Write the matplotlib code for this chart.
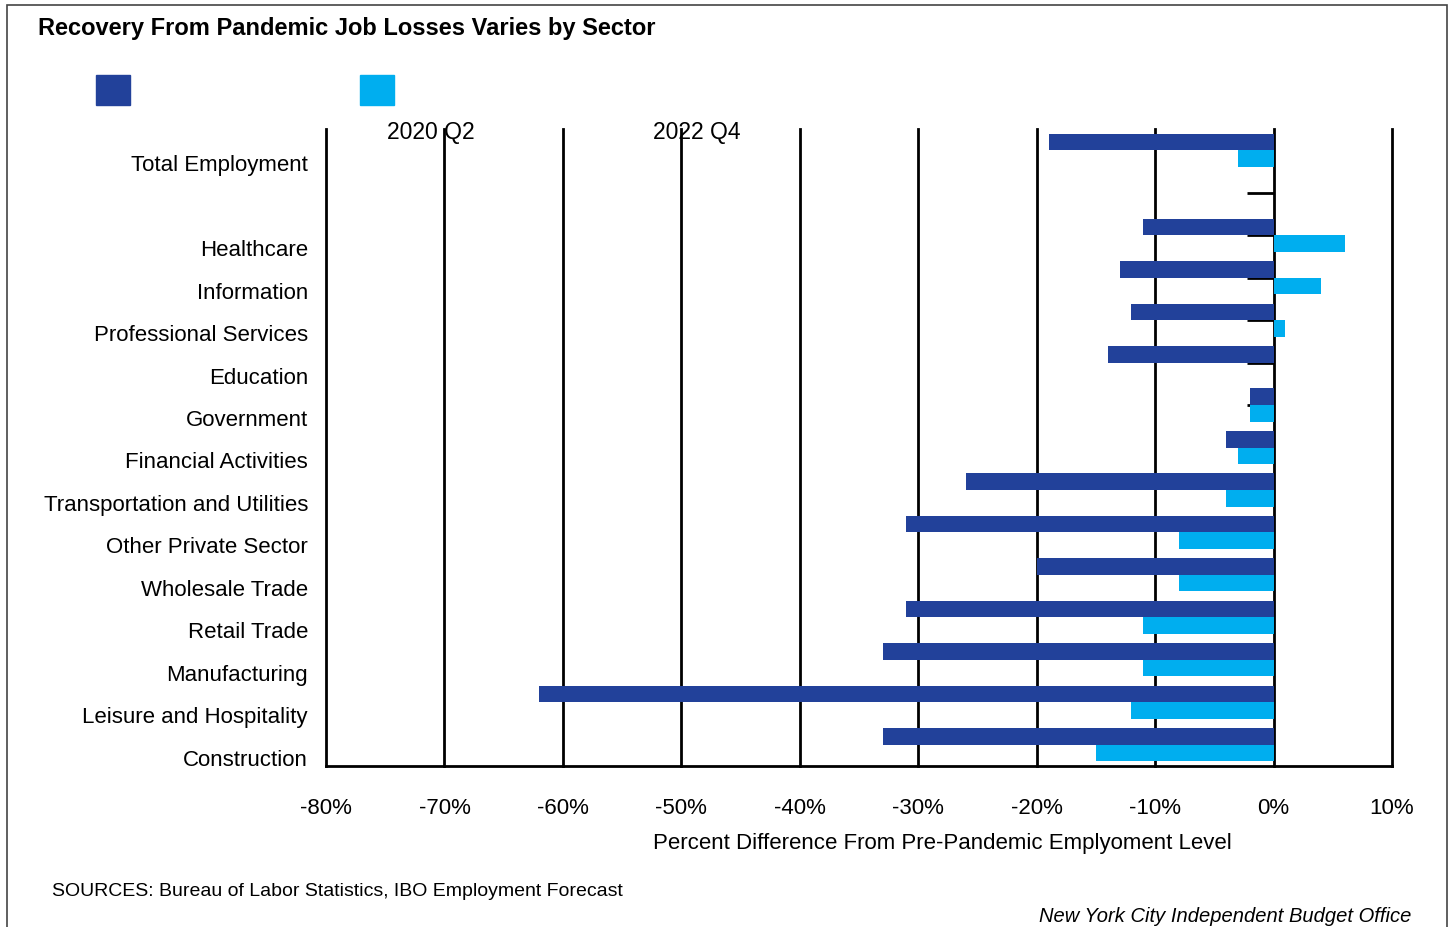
import numpy as np
import matplotlib.pyplot as plt
import matplotlib.transforms as mtransforms
from matplotlib.patches import Rectangle

plt.rcParams['font.family'] = ['Liberation Sans', 'DejaVu Sans']

# data
sectors = ['Total Employment', '', 'Healthcare', 'Information', 'Professional Services',
           'Education', 'Government', 'Financial Activities', 'Transportation and Utilities',
           'Other Private Sector', 'Wholesale Trade', 'Retail Trade', 'Manufacturing',
           'Leisure and Hospitality', 'Construction']
q2_2020 = [-19, 0, -11, -13, -12, -14, -2, -4, -26, -31, -20, -31, -33, -62, -33]
q4_2022 = [-3, 0, 6, 4, 1, 0, -2, -3, -4, -8, -8, -11, -11, -12, -15]
series_names = ['2020 Q2', '2022 Q4']
xticks = np.arange(-80, 11, 10)

dark = '#22419A'
light = '#00AEEF'

fig = plt.figure(figsize=(14.5, 9.27), dpi=100)
ax = fig.add_axes([326/1450, 1-766/927, (1392-326)/1450, (766-129)/927])

y = np.arange(len(sectors))
h = 0.39
ax.barh(y - h/2, q2_2020, height=h, color=dark, zorder=3)
ax.barh(y + h/2, q4_2022, height=h, color=light, zorder=3)

# grid lines / zero axis with small ticks
for xv in xticks:
    ax.axvline(xv, color='black', lw=2, zorder=1, clip_on=False)
ax.hlines(y, -2.2, 0, color='black', lw=2, zorder=2)

ax.set_xlim(-80, 10)
ax.set_ylim(len(sectors) - 0.5, -0.5)
ax.set_xticks(xticks)
ax.set_xticklabels([f'{v}%' for v in xticks], fontsize=16)
ax.set_yticks(y)
ax.set_yticklabels(sectors, fontsize=16)
ax.tick_params(axis='both', length=0)
ax.tick_params(axis='x', pad=23)
ax.tick_params(axis='y', pad=13)
offset = mtransforms.ScaledTranslation(0, -13/100, fig.dpi_scale_trans)
for lab in ax.get_yticklabels():
    lab.set_transform(lab.get_transform() + offset)

for s in ['top', 'right', 'left']:
    ax.spines[s].set_visible(False)
ax.spines['bottom'].set_linewidth(2)

ax.text(0.578, -0.121, 'Percent Difference From Pre-Pandemic Emplyoment Level',
        transform=ax.transAxes, ha='center', va='center', fontsize=16)

# title, legend, notes
fig.text(38/1450, 1-28/927, 'Recovery From Pandemic Job Losses Varies by Sector',
         fontsize=17, fontweight='bold', va='center', ha='left')
fig.patches.append(Rectangle((96/1450, 1-105/927), 34/1450, 30/927,
                             transform=fig.transFigure, color=dark))
fig.patches.append(Rectangle((360/1450, 1-105/927), 34/1450, 30/927,
                             transform=fig.transFigure, color=light))
fig.text(387/1450, 1-133/927, series_names[0], fontsize=16.5, va='center', ha='left')
fig.text(653/1450, 1-133/927, series_names[1], fontsize=16.5, va='center', ha='left')
fig.text(52/1450, 1-891/927, 'SOURCES: Bureau of Labor Statistics, IBO Employment Forecast',
         fontsize=14, va='center', ha='left')
fig.text(1411/1450, 1-916/927, 'New York City Independent Budget Office',
         fontsize=14.5, style='italic', va='center', ha='right')

fig.patches.append(Rectangle((7/1450, -0.05), 1440/1450, 1.05 - 5/927,
                             transform=fig.transFigure, fill=False,
                             edgecolor='#444444', lw=1.2))

fig.savefig('out.png', dpi=100)
